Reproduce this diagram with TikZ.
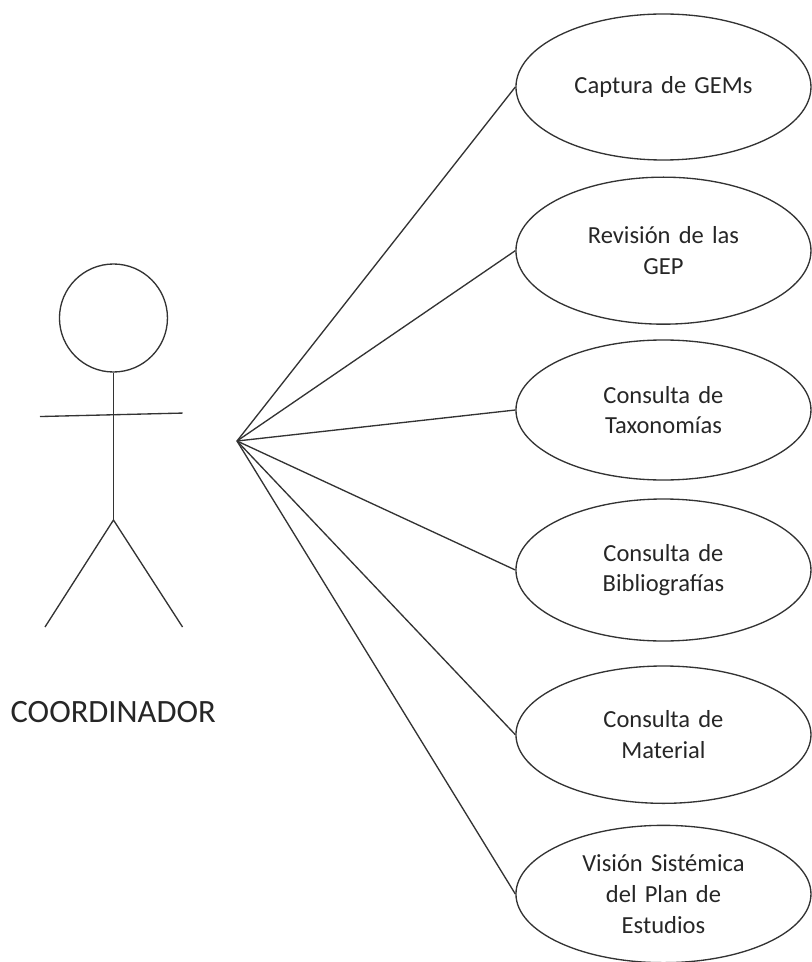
\documentclass[tikz,border=0pt]{standalone}
\usepackage{fontspec}
\setmainfont{Carlito}
\usepackage{xcolor}
\usetikzlibrary{calc}
\usetikzlibrary{shapes.geometric}
\definecolor{inkline}{HTML}{333333}
\definecolor{inktext}{HTML}{262626}
\tikzset{
  stroke/.style={draw=inkline, line width=1pt},
  usecase/.style={stroke, ellipse, inner sep=0pt, minimum width=221.25pt,
    text width=140pt, align=center, text=inktext, font=\fontsize{18.4}{23}\selectfont},
  actorname/.style={text=inktext, inner sep=0pt, font=\fontsize{24.4}{28}\selectfont},
}
\newcommand{\usecasenode}[4]{
\node[usecase, minimum height=#3pt] (#1) at (497.6, #2) {#4};
\draw[stroke] (hub) -- (#1.west);
}
\begin{document}
\begin{tikzpicture}[x=1pt, y=-1pt]
\useasboundingbox (0, 0) rectangle (608.25, 721.5);
\coordinate (hub) at (177.75, 330.75);
\usecasenode{capture}{65.25}{109.5}{Captura de GEMs}
\usecasenode{review}{188}{110.25}{Revisión de las\\GEP}
\usecasenode{taxonomy}{307.5}{105}{Consulta de\\Taxonomías}
\usecasenode{biblio}{427.5}{106.5}{Consulta de\\Bibliografías}
\usecasenode{material}{551}{103}{Consulta de\\Material}
\usecasenode{vision}{670.5}{103}{Visión Sistémica\\del Plan de\\Estudios}
% actor
\node[stroke, circle, inner sep=0pt, minimum size=81pt] (head) at (85.1, 238.5) {};
\coordinate (hip) at (85.1, 390);
\coordinate (armleft) at (30, 312.4);
\coordinate (armright) at (136.9, 309.8);
\coordinate (footleft) at (33.75, 470.25);
\coordinate (footright) at (136.9, 470.25);
\draw[stroke] (head.south) -- (hip);
\draw[stroke] (armleft) -- (armright);
\draw[stroke] (footleft) -- (hip) -- (footright);
\node[actorname] (coordinador) at (84.9, 534.3) {COORDINADOR};
\end{tikzpicture}
\end{document}
